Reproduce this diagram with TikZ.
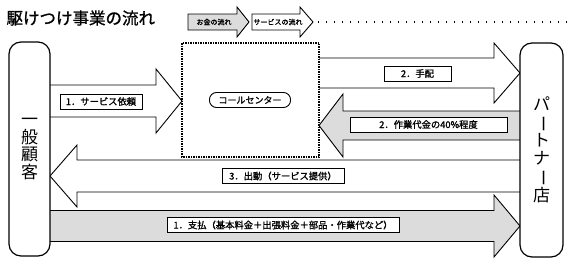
\documentclass[tikz,border=0pt]{standalone}
\usepackage{fontspec}
\setmainfont{Noto Sans CJK JP}[AutoFakeBold=1.2]
\usetikzlibrary{positioning}
\definecolor{flowGray}{RGB}{220,220,220}

\tikzset{
  blk/.style={draw=black, line width=0.9pt, line join=miter},
  lbl/.style={draw, fill=white, line width=0.8pt, font=\fontsize{9.3}{10}\selectfont\bfseries, inner sep=1pt, minimum height=15pt},
  party/.style={draw, fill=white, line width=1.2pt, rounded corners=12pt, align=center, font=\fontsize{17}{17.5}\selectfont},
}
% block arrow: tail x, head base x, tip x, mid y, shaft half, head half, fill
\newcommand{\blockarrow}[7]{%
  \draw[blk, fill=#7] (#1,#4-#5) -- (#2,#4-#5) -- (#2,#4-#6) -- (#3,#4)
    -- (#2,#4+#6) -- (#2,#4+#5) -- (#1,#4+#5);}
\newcommand{\vbar}{\rotatebox[origin=c]{-90}{ー}}

\begin{document}
\begin{tikzpicture}[x=1pt, y=-1pt]
  \useasboundingbox (0,0) rectangle (568,265);

  % title and legend
  \node[anchor=west, font=\fontsize{16.5}{17}\selectfont\bfseries] (title) at (3,18) {駆けつけ事業の流れ};
  \draw[blk, fill=flowGray] (188,14) -- (237,14) -- (237,7) -- (249,22) -- (237,37) -- (237,30) -- (188,30) -- cycle;
  \node[font=\fontsize{7}{7}\selectfont\bfseries] (money) at (214,22) {お金の流れ};
  \draw[blk, fill=white] (252,14) -- (300,14) -- (300,7) -- (313,22) -- (300,37) -- (300,30) -- (252,30) -- cycle;
  \node[font=\fontsize{7}{7}\selectfont\bfseries] (service) at (278,22) {サービスの流れ};
  \draw[line width=1.2pt, dash pattern=on 1.2pt off 6.8pt] (318,22) -- (568,22);

  % flows
  \blockarrow{50}{156}{182}{101}{16}{32}{white}
  \blockarrow{319}{494}{520}{73}{15}{30}{white}
  \blockarrow{520}{343}{319}{125.5}{14.5}{31.5}{flowGray}
  \blockarrow{520}{77}{50}{176}{16}{31}{white}
  \blockarrow{50}{494}{520}{226}{15.5}{31}{flowGray}

  % call center
  \draw[line width=1.5pt, dash pattern=on 1.5pt off 1pt] (182,43) rectangle (319,157);
  \node[draw, line width=0.9pt, rounded corners=7pt, minimum width=81pt, minimum height=15pt,
        inner sep=1pt, font=\fontsize{9}{10}\selectfont\bfseries] (cc) at (250,100) {コールセンター};

  % parties
  \node[party, minimum width=41pt, minimum height=214pt] (customer) at (29.5,149) {一\\般\\顧\\客};
  \node[party, minimum width=43pt, minimum height=214pt] (partner) at (541.5,150) {パ\\\vbar\\ト\\ナ\\\vbar\\店};

  % labels
  \node[lbl, minimum width=82pt] (req) at (101,101.5) {1．サービス依頼};
  \node[lbl, minimum width=67pt] (arr) at (417.5,73.5) {2．手配};
  \node[lbl, minimum width=157pt] (fee) at (428.5,124.5) {2．作業代金の40\%程度};
  \node[lbl, minimum width=122pt] (disp) at (283,176) {3．出動（サービス提供）};
  \node[lbl, minimum width=232pt] (pay) at (283,225) {1．支払（基本料金＋出張料金＋部品・作業代など）};
\end{tikzpicture}
\end{document}
